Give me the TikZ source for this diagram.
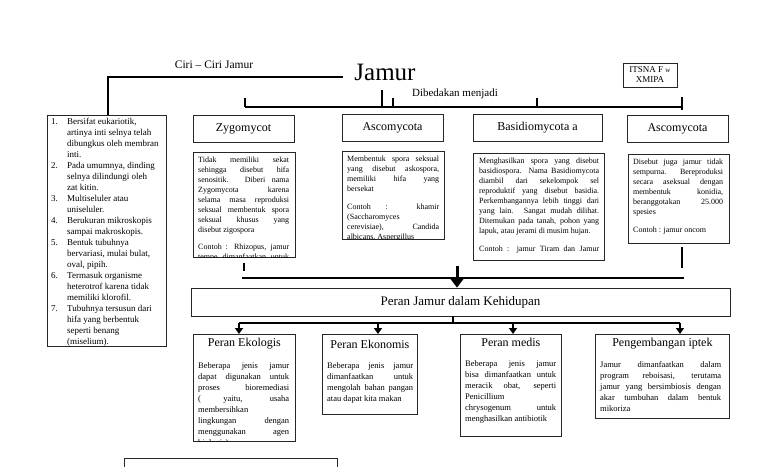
\documentclass[tikz,border=0pt]{standalone}
\usepackage{fontspec}
\setmainfont{Liberation Serif}
\usetikzlibrary{arrows.meta}
\setlength{\parindent}{0pt}
\begin{document}
\begin{tikzpicture}[x=1pt,y=-1pt,
  box/.style={draw=black!85, line width=0.8pt, inner sep=0pt, anchor=north west},
  hbox/.style={draw=black!85, line width=0.8pt, inner sep=0pt, minimum height=27pt, font=\fontsize{12}{14}\selectfont},
  ctext/.style={inner sep=0pt, anchor=north west, align=justify, font=\fontsize{8}{10}\selectfont},
  btext/.style={inner sep=0pt, anchor=north west, align=justify, font=\fontsize{8.5}{11}\selectfont},
  btitle/.style={inner sep=0pt, font=\fontsize{12}{14}\selectfont},
  conn/.style={line width=2.6pt},
  arr/.style={line width=2.4pt, -{Triangle[width=8pt,length=6pt]}}
]
\useasboundingbox[fill=white] (0,0) rectangle (768,466);

% ---------- titles ----------
\node[inner sep=0pt, font=\fontsize{25}{28}\selectfont] (jamur) at (385,72) {Jamur};
\node[inner sep=0pt, font=\fontsize{11.5}{13}\selectfont] (ciri) at (214,65) {Ciri – Ciri Jamur};
\node[inner sep=0pt, font=\fontsize{11}{13}\selectfont] (dibedakan) at (455,94) {Dibedakan menjadi};
\node[draw=black!85, line width=0.8pt, minimum width=54pt, minimum height=24pt, inner sep=0pt,
      align=center, font=\fontsize{9}{10}\selectfont] (itsna) at (650,75)
      {ITSNA F {\fontsize{7}{8}\selectfont w}\\XMIPA};

% ---------- left box: ciri-ciri ----------
\node[box, minimum width=119pt, minimum height=231pt] (ciribox) at (47,115) {};
\node[inner sep=0pt, anchor=north west, align=left, font=\fontsize{9}{11}\selectfont] (cirilist) at (51,118) {%
\makebox[16pt][l]{1.}Bersifat eukariotik,\\
\hspace*{16pt}artinya inti selnya telah\\
\hspace*{16pt}dibungkus oleh membran\\
\hspace*{16pt}inti.\\
\makebox[16pt][l]{2.}Pada umumnya, dinding\\
\hspace*{16pt}selnya dilindungi oleh\\
\hspace*{16pt}zat kitin.\\
\makebox[16pt][l]{3.}Multiseluler atau\\
\hspace*{16pt}uniseluler.\\
\makebox[16pt][l]{4.}Berukuran mikroskopis\\
\hspace*{16pt}sampai makroskopis.\\
\makebox[16pt][l]{5.}Bentuk tubuhnya\\
\hspace*{16pt}bervariasi, mulai bulat,\\
\hspace*{16pt}oval, pipih.\\
\makebox[16pt][l]{6.}Termasuk organisme\\
\hspace*{16pt}heterotrof karena tidak\\
\hspace*{16pt}memiliki klorofil.\\
\makebox[16pt][l]{7.}Tubuhnya tersusun dari\\
\hspace*{16pt}hifa yang berbentuk\\
\hspace*{16pt}seperti benang\\
\hspace*{16pt}(miselium).};

% ---------- class headers ----------
\node[hbox, minimum width=101pt] (zygo) at (243.5,128.5) {Zygomycot};
\node[hbox, minimum width=101pt] (asco) at (392.5,128) {Ascomycota};
\node[hbox, minimum width=129pt] (basid) at (537.5,128) {Basidiomycota a};
\node[hbox, minimum width=101pt] (deut) at (677.5,128.5) {Ascomycota};

% ---------- class content boxes ----------
\node[box, minimum width=102pt, minimum height=105pt] (zc) at (193,152) {};
\begin{scope}
\clip (zc.south west) rectangle (zc.north east);
\node[ctext, text width=91pt] (zct) at ([xshift=5pt,yshift=-5pt]zc.north west) {%
Tidak memiliki sekat\linebreak sehingga disebut hifa\linebreak senositik. Diberi nama\linebreak Zygomycota karena\linebreak selama masa reproduksi\linebreak seksual membentuk spora\linebreak seksual khusus yang\linebreak disebut zigospora\par\vspace{7pt}
Contoh : Rhizopus, jamur\linebreak tempe dimanfaatkan untuk\linebreak roti};
\end{scope}

\node[box, minimum width=102pt, minimum height=88pt] (ac) at (342,151) {};
\begin{scope}
\clip (ac.south west) rectangle (ac.north east);
\node[ctext, text width=92pt] (act) at ([xshift=5pt,yshift=-5pt]ac.north west) {%
Membentuk spora seksual\linebreak yang disebut askospora,\linebreak memiliki hifa yang\linebreak bersekat\par\vspace{8pt}
Contoh : khamir\linebreak (Saccharomyces\linebreak cerevisiae), Candida\linebreak albicans, Aspergillus};
\end{scope}

\node[box, minimum width=131pt, minimum height=107pt] (bc) at (473,153) {};
\node[ctext, text width=120pt] (bct) at ([xshift=6pt,yshift=-5pt]bc.north west) {%
Menghasilkan spora yang disebut\linebreak basidiospora. Nama Basidiomycota\linebreak diambil dari sekelompok sel\linebreak reproduktif yang disebut basidia.\linebreak Perkembangannya lebih tinggi dari\linebreak yang lain. Sangat mudah dilihat.\linebreak Ditemukan pada tanah, pohon yang\linebreak lapuk, atau jerami di musim hujan.\par\vspace{8pt}
{\parfillskip=0pt Contoh : jamur Tiram dan Jamur\par}};

\node[box, minimum width=101pt, minimum height=89pt] (dc) at (628,154) {};
\node[ctext, text width=90pt] (dct) at ([xshift=5pt,yshift=-5pt]dc.north west) {%
Disebut juga jamur tidak\linebreak sempurna. Bereproduksi\linebreak secara aseksual dengan\linebreak membentuk konidia,\linebreak beranggotakan 25.000\linebreak spesies\par\vspace{8pt}
Contoh : jamur oncom};

% ---------- top connectors ----------
\coordinate (t1) at (108,77);
\coordinate (t2) at (343,77);
\draw[conn] (t2) -- (t1) -- (t1 |- ciribox.north);

\coordinate (b1) at (245,107);
\coordinate (b2) at (682,107);
\draw[conn] (b1) -- (b2);
\draw[conn] (245,98) -- (b1);
\draw[conn] (382,90) -- (382,107);
\draw[conn] (393,98) -- (393,107);
\draw[conn] (537,98) -- (537,107);
\draw[conn] (682,97) -- (682,110);

% ---------- middle: toward Peran Jamur ----------
\node[draw=black!85, line width=0.8pt, inner sep=0pt, minimum width=539pt, minimum height=28pt,
      font=\fontsize{13}{15}\selectfont] (peran) at (460.5,302) {Peran Jamur dalam Kehidupan};

\draw[conn] (244,263) -- (244,271);
\draw[conn] (682,247) -- (682,268);
\draw[conn] (242,278) -- (684,278);
\coordinate (arrtop) at (457,266);
\draw[line width=3pt, -{Triangle[width=13pt,length=9pt]}] (arrtop) -- (arrtop |- peran.north);

% ---------- bottom boxes ----------
\node[box, minimum width=102pt, minimum height=107pt] (eko) at (193,334) {};
\node[box, minimum width=95pt, minimum height=80pt] (ekon) at (322,334) {};
\node[box, minimum width=101pt, minimum height=102pt] (med) at (460,334) {};
\node[box, minimum width=134pt, minimum height=84pt] (ipt) at (595,334) {};

\node[btitle] (ekot) at ([yshift=-10pt]eko.north) {Peran Ekologis};
\node[btitle] (ekont) at ([yshift=-10pt]ekon.north) {Peran Ekonomis};
\node[btitle] (medt) at ([yshift=-8pt]med.north) {Peran medis};
\node[btitle] (iptt) at ([yshift=-10pt]ipt.north) {Pengembangan iptek};

\begin{scope}
\clip (eko.south west) rectangle (eko.north east);
\node[btext, text width=91pt] (ekob) at (198,362) {%
Beberapa jenis jamur\linebreak dapat digunakan untuk\linebreak proses bioremediasi\linebreak ( yaitu, usaha\linebreak membersihkan\linebreak lingkungan dengan\linebreak menggunakan agen\linebreak biologis)};
\end{scope}
\node[btext, text width=86pt] (ekonb) at (327,362) {%
Beberapa jenis jamur\linebreak dimanfaatkan untuk\linebreak mengolah bahan pangan\linebreak atau dapat kita makan};
\node[btext, text width=91pt] (medb) at (465,360) {%
Beberapa jenis jamur\linebreak bisa dimanfaatkan untuk\linebreak meracik obat, seperti\linebreak Penicillium\linebreak chrysogenum untuk\linebreak menghasilkan antibiotik};
\node[btext, text width=121pt] (iptb) at (600,361) {%
Jamur dimanfaatkan dalam\linebreak program reboisasi, terutama\linebreak jamur yang bersimbiosis dengan\linebreak akar tumbuhan dalam bentuk\linebreak mikoriza};

% ---------- bottom connectors ----------
\coordinate (pb) at (453,323);
\draw[conn] (peran.south -| pb) -- (pb);
\coordinate (r1) at (239,323);
\coordinate (r2) at (378,323);
\coordinate (r3) at (513,323);
\coordinate (r4) at (680,323);
\draw[conn] (r1) -- (r4);
\draw[arr] (r1) -- (r1 |- eko.north);
\draw[arr] (r2) -- (r2 |- ekon.north);
\draw[arr] (r3) -- (r3 |- med.north);
\draw[arr] (r4) -- (r4 |- ipt.north);

% ---------- partial box at bottom ----------
\node[box, minimum width=213pt, minimum height=20pt] (manfaat) at (124,458) {};
\end{tikzpicture}
\end{document}
